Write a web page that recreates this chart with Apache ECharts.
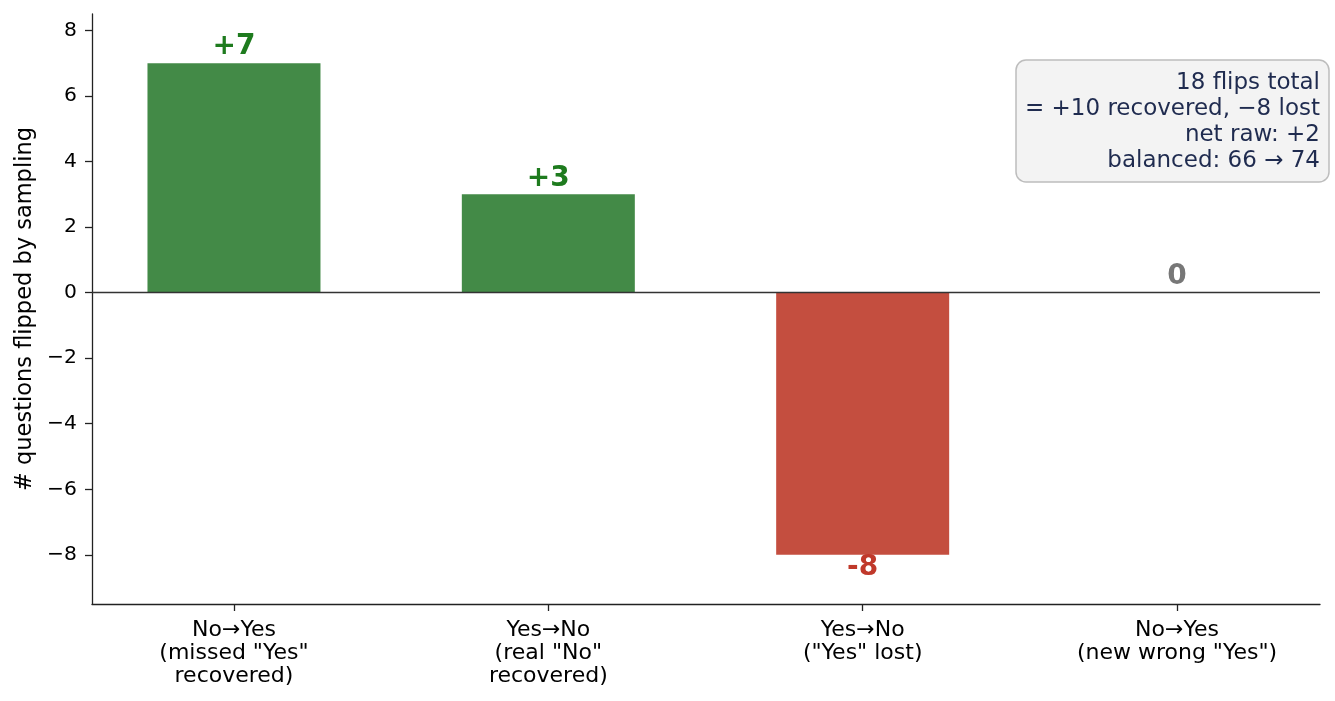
<!DOCTYPE html>
<html>
<head>
<meta charset="utf-8">
<script src="https://cdn.jsdelivr.net/npm/echarts@6/dist/echarts.min.js"></script>
<style>
  html, body { margin: 0; padding: 0; background: #fff; }
  #chart { width: 1335px; height: 701px; }
</style>
</head>
<body>
<div id="chart"></div>
<script>
// data
var categories = [
  'No\u2192Yes\n(missed "Yes"\nrecovered)',
  'Yes\u2192No\n(real "No"\nrecovered)',
  'Yes\u2192No\n("Yes" lost)',
  'No\u2192Yes\n(new wrong "Yes")'
];
var flips = [7, 3, -8, 0];
var yTicks = [-8, -6, -4, -2, 0, 2, 4, 6, 8];
var noteLines = [
  '18 flips total',
  '= +10 recovered, \u22128 lost',
  'net raw: +2',
  'balanced: 66 \u2192 74'
];

var FONT = '"DejaVu Sans", sans-serif';
var AXIS = '#222';

function minus(v) {
  return v < 0 ? '\u2212' + (-v) : String(v);
}

// per-bar style: green up, red down, grey zero
var barData = flips.map(function (v) {
  var barColor = v > 0 ? '#438a47' : (v < 0 ? '#c44e3f' : '#888');
  var labelColor = v > 0 ? '#1e7b1e' : (v < 0 ? '#c0392b' : '#777777');
  return {
    value: v,
    itemStyle: { color: barColor },
    label: {
      color: labelColor,
      position: v < 0 ? 'bottom' : 'top',
      distance: v < 0 ? -1 : 2
    }
  };
});

var chart = echarts.init(document.getElementById('chart'));

var option = {
  animation: false,
  textStyle: { fontFamily: FONT },
  grid: [
    // spines grid
    { left: 92, right: 15, top: 14, bottom: 97 },
    // bars grid, widened so category centres land like matplotlib's margins
    { left: 76.8, right: 0.8, top: 14, bottom: 97 }
  ],
  xAxis: [
    {
      type: 'value', gridIndex: 0, min: -0.45, max: 3.45,
      axisLine: { show: true, onZero: false, lineStyle: { color: AXIS, width: 1.3 } },
      axisTick: { show: false }, axisLabel: { show: false }, splitLine: { show: false }
    },
    {
      type: 'category', gridIndex: 1, data: categories,
      axisLine: { show: false, onZero: false },
      axisTick: { show: true, alignWithLabel: true, length: 7, lineStyle: { color: AXIS, width: 1.3 } },
      axisLabel: { color: '#000', fontSize: 22, lineHeight: 23, margin: 15, fontFamily: FONT },
      splitLine: { show: false }
    }
  ],
  yAxis: [
    {
      type: 'value', gridIndex: 0, min: -9.5, max: 8.5,
      name: '# questions flipped by sampling',
      nameLocation: 'middle', nameGap: 53,
      nameTextStyle: { color: '#000', fontSize: 22.5, fontFamily: FONT },
      axisLine: { show: true, onZero: false, lineStyle: { color: AXIS, width: 1.3 } },
      axisTick: { show: true, length: 7, customValues: yTicks, lineStyle: { color: AXIS, width: 1.3 } },
      axisLabel: { color: '#000', fontSize: 20.3, margin: 15, customValues: yTicks, formatter: minus, fontFamily: FONT },
      splitLine: { show: false }
    },
    {
      type: 'value', gridIndex: 1, min: -9.5, max: 8.5,
      show: false
    }
  ],
  series: [
    {
      type: 'bar',
      xAxisIndex: 1, yAxisIndex: 1,
      data: barData,
      barWidth: 173,
      label: {
        show: true,
        fontSize: 28,
        fontWeight: 'bold',
        fontFamily: FONT,
        formatter: function (p) {
          return p.value > 0 ? '+' + p.value : String(p.value);
        }
      }
    },
    {
      // zero reference line across the spines grid
      type: 'line',
      xAxisIndex: 0, yAxisIndex: 0,
      data: [],
      markLine: {
        silent: true,
        symbol: 'none',
        label: { show: false },
        lineStyle: { color: '#333', width: 1.3, type: 'solid' },
        data: [{ yAxis: 0 }]
      }
    }
  ],
  graphic: [
    {
      type: 'rect',
      shape: { x: 1016, y: 60, width: 313, height: 122, r: 10 },
      style: { fill: '#f3f3f3', stroke: '#bdbdbd', lineWidth: 1.5 },
      z: 10
    },
    {
      type: 'text',
      x: 1320, y: 69.5,
      style: {
        text: noteLines.join('\n'),
        align: 'right',
        textAlign: 'right',
        verticalAlign: 'top',
        fill: '#1f2b4f',
        font: '23px "DejaVu Sans", sans-serif',
        lineHeight: 26.2
      },
      z: 11
    }
  ]
};

chart.setOption(option);
</script>
</body>
</html>
